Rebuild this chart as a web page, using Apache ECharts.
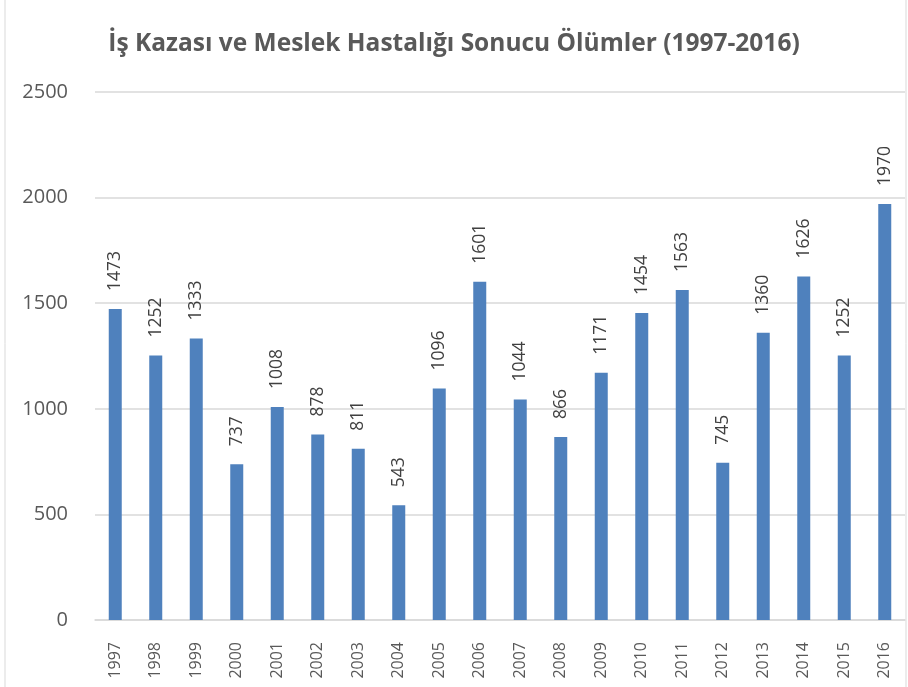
<!DOCTYPE html>
<html>
<head>
<meta charset="utf-8">
<script src="https://cdn.jsdelivr.net/npm/echarts@6/dist/echarts.min.js"></script>
<style>
html, body { margin: 0; padding: 0; background: #fff; }
#main { width: 908px; height: 687px; }
</style>
</head>
<body>
<div id="main"></div>
<script>
var years = ['1997', '1998', '1999', '2000', '2001', '2002', '2003', '2004', '2005', '2006',
    '2007', '2008', '2009', '2010', '2011', '2012', '2013', '2014', '2015', '2016'];
var deaths = [1473, 1252, 1333, 737, 1008, 878, 811, 543, 1096, 1601,
    1044, 866, 1171, 1454, 1563, 745, 1360, 1626, 1252, 1970];

var myChart = echarts.init(document.getElementById('main'));

var option = {
    animation: false,
    title: {
        text: 'İş Kazası ve Meslek Hastalığı Sonucu Ölümler (1997-2016)',
        left: 'center',
        top: 27,
        textStyle: {
            fontFamily: 'Open Sans',
            fontWeight: 'bold',
            fontSize: 24.5,
            color: '#595959'
        }
    },
    graphic: [{
        type: 'rect',
        shape: { x: 5, y: -2, width: 901, height: 700 },
        style: { fill: 'none', stroke: '#d9d9d9', lineWidth: 1 }
    }],
    grid: {
        left: 95,
        right: 3,
        top: 92,
        bottom: 67
    },
    xAxis: {
        type: 'category',
        data: years,
        axisTick: { show: false },
        axisLine: { lineStyle: { color: '#d9d9d9', width: 1.5 } },
        axisLabel: {
            rotate: 90,
            margin: 22,
            fontFamily: 'Open Sans',
            fontSize: 16,
            color: '#595959'
        }
    },
    yAxis: {
        type: 'value',
        min: 0,
        max: 2500,
        interval: 500,
        axisLine: { show: false },
        axisTick: { show: false },
        splitLine: { lineStyle: { color: '#d9d9d9', width: 1.5 } },
        axisLabel: {
            margin: 27,
            fontFamily: 'Open Sans',
            fontSize: 20,
            color: '#595959',
            formatter: function (v) { return String(v); }
        }
    },
    series: [{
        name: 'Ölümler',
        type: 'bar',
        data: deaths,
        barWidth: 13,
        itemStyle: { color: '#4f81bd' },
        label: {
            show: true,
            position: 'top',
            rotate: 90,
            align: 'left',
            verticalAlign: 'middle',
            distance: 18,
            fontFamily: 'Open Sans',
            fontSize: 17.5,
            color: '#404040'
        }
    }]
};

myChart.setOption(option);
</script>
</body>
</html>
